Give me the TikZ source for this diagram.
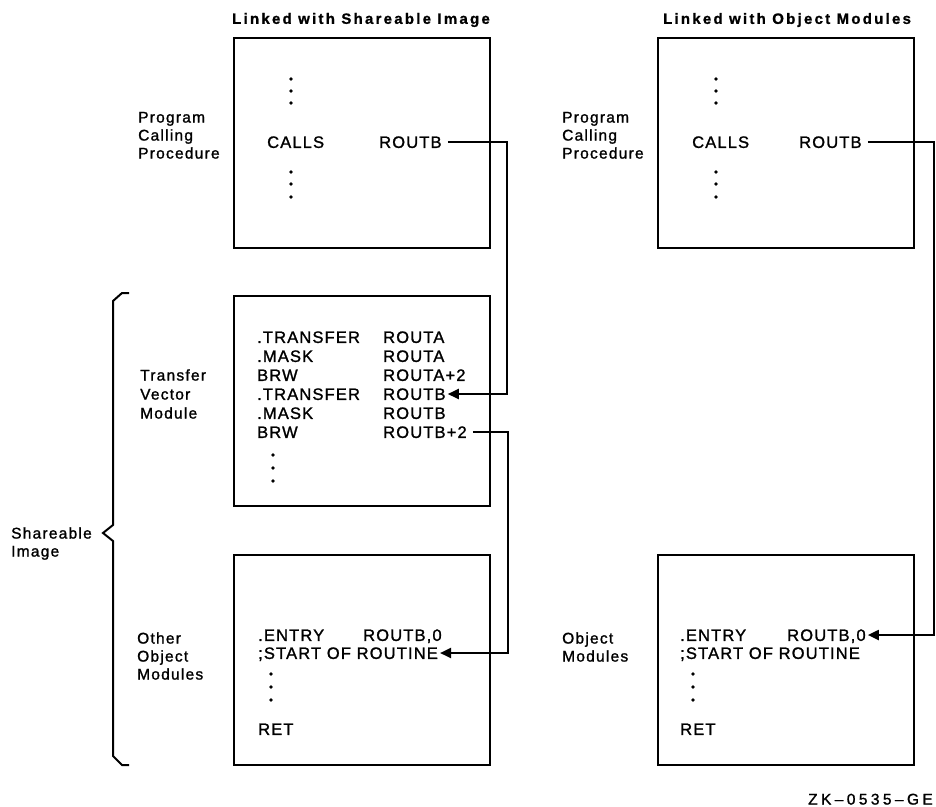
\documentclass[tikz,border=0pt]{standalone}
\usepackage{fontspec}
\setmainfont{Liberation Sans}
\newfontfamily\codef{Liberation Sans}[LetterSpace=7,FakeBold=1.3]
\newfontfamily\lblf{Liberation Sans}[LetterSpace=8,FakeBold=1.3]
\newfontfamily\zkf{Liberation Sans}[LetterSpace=22,FakeBold=1.3]
\newfontfamily\titlef{Liberation Sans Bold}[LetterSpace=15,FakeBold=1]
\usetikzlibrary{arrows.meta}
\begin{document}
\begin{tikzpicture}[x=1pt,y=-1pt,
  box/.style={draw, line width=2pt, inner sep=0pt, minimum width=256pt, minimum height=210pt, anchor=north west},
  code/.style={anchor=west, inner sep=0pt, text height=11.8pt, text depth=0pt, font=\codef\fontsize{16.5}{18}\selectfont},
  lbl/.style={anchor=west, inner sep=0pt, text height=11.1pt, text depth=0pt, font=\lblf\fontsize{15.5}{17}\selectfont},
  ttl/.style={inner sep=0pt, font=\titlef\fontsize{15}{17}\selectfont},
  wire/.style={line width=2pt},
  arr/.style={wire, -{Triangle[length=11pt,width=10pt]}},
  dotf/.style={fill=black},
]
\useasboundingbox (0,0) rectangle (936,806);

% titles
\node[ttl] (t1) at (361,20) {Linked with Shareable Image};
\node[ttl] (t2) at (787,20) {Linked with Object Modules};

% boxes
\node[box] (B1) at (233,37) {};
\node[box] (B2) at (657,37) {};
\node[box] (B3) at (233,295) {};
\node[box] (B4) at (233,554) {};
\node[box] (B5) at (657,554) {};

% box 1
\node[lbl] (l1a) at (138,117) {Program};
\node[lbl] (l1b) at (138,135) {Calling};
\node[lbl] (l1c) at (138,153) {Procedure};
\node[code] (b1calls) at (267,142) {CALLS};
\node[code] (b1routb) at (379,142) {ROUTB};
\foreach \y in {79,91,103,172,184,197} \fill[dotf] (291,\y) circle (1.9pt);

% box 2
\node[lbl] (l2a) at (562,117) {Program};
\node[lbl] (l2b) at (562,135) {Calling};
\node[lbl] (l2c) at (562,153) {Procedure};
\node[code] (b2calls) at (692,142) {CALLS};
\node[code] (b2routb) at (799,142) {ROUTB};
\foreach \y in {79,91,103,172,184,197} \fill[dotf] (716,\y) circle (1.9pt);

% box 3
\node[lbl] (l3a) at (140,375) {Transfer};
\node[lbl] (l3b) at (140,394) {Vector};
\node[lbl] (l3c) at (140,413) {Module};
\node[code] (r1a) at (257,337) {.TRANSFER};
\node[code] (r1b) at (383,337) {ROUTA};
\node[code] (r2a) at (257,356) {.MASK};
\node[code] (r2b) at (383,356) {ROUTA};
\node[code] (r3a) at (257,375) {BRW};
\node[code] (r3b) at (383,375) {ROUTA+2};
\node[code] (r4a) at (257,394) {.TRANSFER};
\node[code] (r4b) at (383,394) {ROUTB};
\node[code] (r5a) at (257,413) {.MASK};
\node[code] (r5b) at (383,413) {ROUTB};
\node[code] (r6a) at (257,432) {BRW};
\node[code] (r6b) at (383,432) {ROUTB+2};
\foreach \y in {455,468,481} \fill[dotf] (273,\y) circle (1.9pt);

% box 4
\node[lbl] (l4a) at (137,638) {Other};
\node[lbl] (l4b) at (137,656) {Object};
\node[lbl] (l4c) at (137,674) {Modules};
\node[code] (e4a) at (258,635) {.ENTRY};
\node[code] (e4b) at (363,635) {ROUTB,0};
\node[code] (s4) at (258,653) {;START OF ROUTINE};
\node[code] (ret4) at (258,729) {RET};
\foreach \y in {674,687,700} \fill[dotf] (271,\y) circle (1.9pt);

% box 5
\node[lbl] (l5a) at (562,638) {Object};
\node[lbl] (l5b) at (562,656) {Modules};
\node[code] (e5a) at (680,635) {.ENTRY};
\node[code] (e5b) at (787,635) {ROUTB,0};
\node[code] (s5) at (680,653) {;START OF ROUTINE};
\node[code] (ret5) at (680,729) {RET};
\foreach \y in {674,687,700} \fill[dotf] (693,\y) circle (1.9pt);

% brace and its label
\draw[wire] (129,293) -- (122,293) -- (113,301) -- (113,525) -- (103,533) -- (113,541) -- (113,756) -- (122,765) -- (129,765);
\node[lbl] (shA) at (11,533) {Shareable};
\node[lbl] (shB) at (11,551) {Image};

% connector points
\coordinate (a1) at ([xshift=6pt]b1routb.east);
\coordinate (a2) at ([xshift=6pt]r6b.east);
\coordinate (a3) at ([xshift=6pt]b2routb.east);
\coordinate (j1) at (507,0);
\coordinate (j2) at (508,0);
\coordinate (j3) at (934,0);
\coordinate (h1) at ([xshift=2pt]r4b.east);
\coordinate (h2) at ([xshift=2pt]s4.east);
\coordinate (h3) at ([xshift=2pt]e5b.east);

% connectors
\draw[arr] (a1) -- (a1 -| j1) -- (h1 -| j1) -- (h1);
\draw[arr] (a2) -- (a2 -| j2) -- (h2 -| j2) -- (h2);
\draw[arr] (a3) -- (a3 -| j3) -- (h3 -| j3) -- (h3);

% figure code
\node[lbl, anchor=east, font=\zkf\fontsize{15.5}{17}\selectfont] (zk) at (933,799) {ZK–0535–GE};
\end{tikzpicture}
\end{document}
